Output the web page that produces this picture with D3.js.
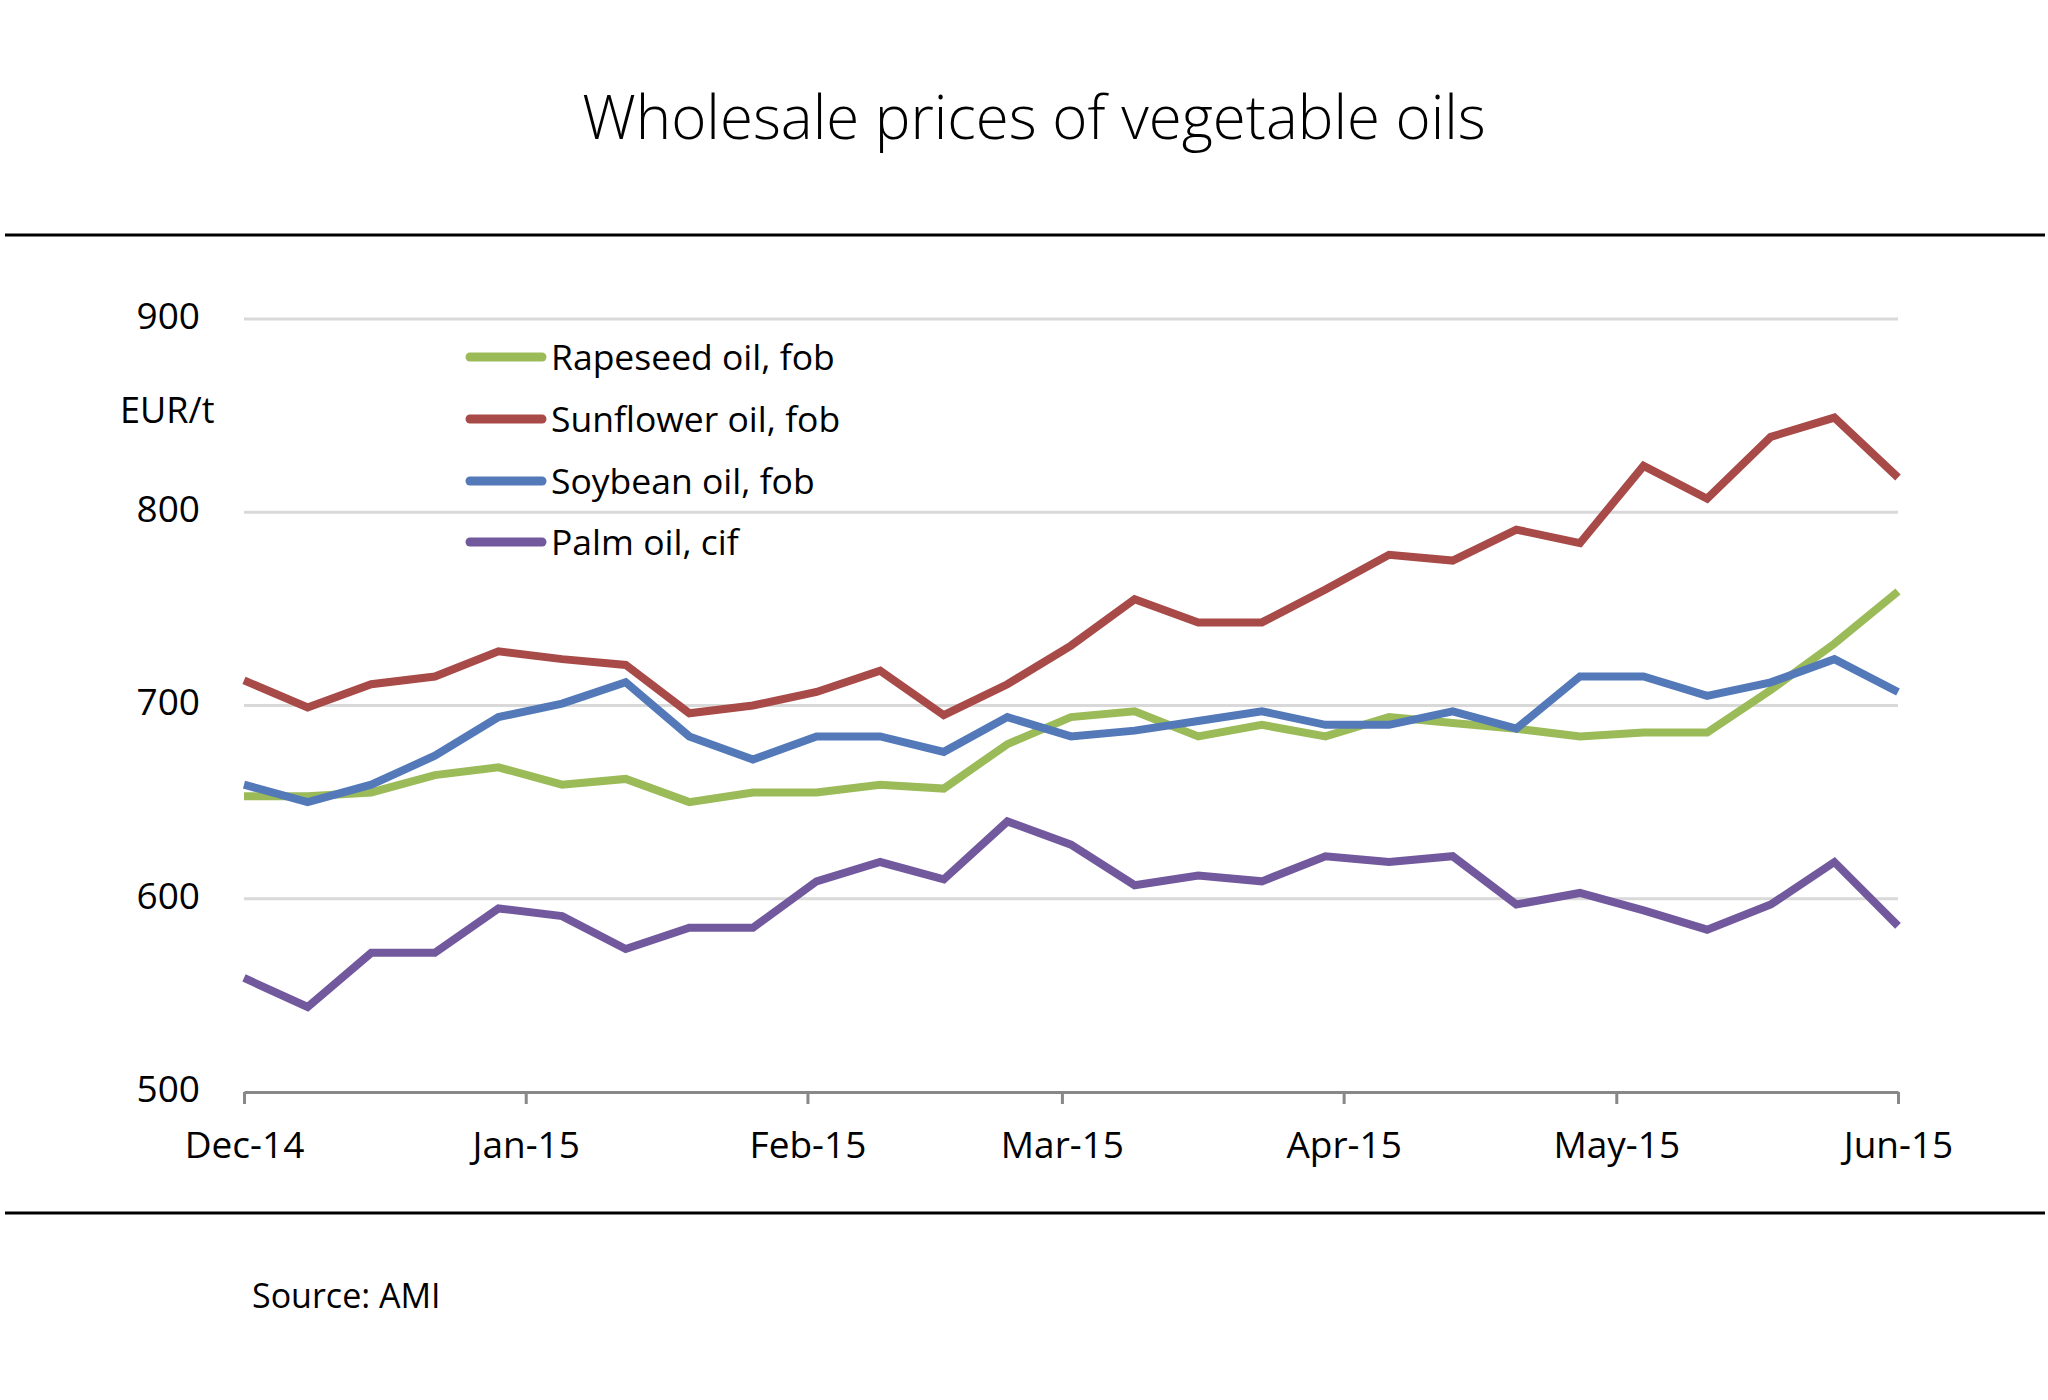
<!DOCTYPE html>
<html>
<head>
<meta charset="utf-8">
<script src="https://cdn.jsdelivr.net/npm/d3@7"></script>
<style>
  body { margin: 0; background: #fff; }
  svg { display: block; font-family: "Open Sans", sans-serif; }
</style>
</head>
<body>
<div id="chart"></div>
<script>
var weeks = ['2014-12-01', '2014-12-08', '2014-12-15', '2014-12-22', '2014-12-29',
  '2015-01-05', '2015-01-12', '2015-01-19', '2015-01-26', '2015-02-02', '2015-02-09',
  '2015-02-16', '2015-02-23', '2015-03-02', '2015-03-09', '2015-03-16', '2015-03-23',
  '2015-03-30', '2015-04-06', '2015-04-13', '2015-04-20', '2015-04-27', '2015-05-04',
  '2015-05-11', '2015-05-18', '2015-05-25', '2015-06-01'];

var rapeseed = [653, 653, 655, 664, 668, 659, 662, 650, 655, 655, 659, 657, 680, 694,
  697, 684, 690, 684, 694, 691, 688, 684, 686, 686, 708, 732, 759];
var sunflower = [713, 699, 711, 715, 728, 724, 721, 696, 700, 707, 718, 695, 711, 731,
  755, 743, 743, 760, 778, 775, 791, 784, 824, 807, 839, 849, 818];
var soybean = [659, 650, 659, 674, 694, 701, 712, 684, 672, 684, 684, 676, 694, 684,
  687, 692, 697, 690, 690, 697, 688, 715, 715, 705, 712, 724, 707];
var palm = [559, 544, 572, 572, 595, 591, 574, 585, 585, 609, 619, 610, 640, 628,
  607, 612, 609, 622, 619, 622, 597, 603, 594, 584, 597, 619, 586];

var seriesNames = ['Rapeseed oil, fob', 'Sunflower oil, fob', 'Soybean oil, fob', 'Palm oil, cif'];
var seriesColors = ['#9bbb59', '#a84a47', '#5479b9', '#72599d'];
var yTicks = [500, 600, 700, 800, 900];

var width = 2048, height = 1400;
var plotLeft = 244, plotRight = 1898, plotTop = 319, plotBottom = 1092;

var svg = d3.select('#chart').append('svg')
  .attr('width', width)
  .attr('height', height);

// title and the two black rules framing the chart
svg.append('text')
  .attr('x', 1034)
  .attr('y', 139)
  .attr('text-anchor', 'middle')
  .attr('font-size', 60)
  .attr('font-weight', 300)
  .attr('fill', '#000')
  .text('Wholesale prices of vegetable oils');

svg.selectAll('.rule')
  .data([235, 1213])
  .enter().append('line')
  .attr('class', 'rule')
  .attr('x1', 5).attr('x2', 2045)
  .attr('y1', function(d) { return d; })
  .attr('y2', function(d) { return d; })
  .attr('stroke', '#000')
  .attr('stroke-width', 3);

var parse = d3.utcParse('%Y-%m-%d');
var dates = weeks.map(parse);

var x = d3.scaleUtc()
  .domain([dates[0], dates[dates.length - 1]])
  .range([plotLeft, plotRight]);

var y = d3.scaleLinear()
  .domain([500, 900])
  .range([plotBottom, plotTop]);

// gridlines
svg.selectAll('.grid')
  .data(yTicks.slice(1))
  .enter().append('line')
  .attr('class', 'grid')
  .attr('x1', plotLeft).attr('x2', plotRight)
  .attr('y1', function(d) { return y(d); })
  .attr('y2', function(d) { return y(d); })
  .attr('stroke', '#d9d9d9')
  .attr('stroke-width', 3);

// y labels
svg.selectAll('.ylab')
  .data(yTicks)
  .enter().append('text')
  .attr('class', 'ylab')
  .attr('x', 200)
  .attr('y', function(d) { return y(d); })
  .attr('dy', '0.27em')
  .attr('text-anchor', 'end')
  .attr('font-size', 37)
  .attr('fill', '#000')
  .text(function(d) { return d; });

svg.append('text')
  .attr('x', 120)
  .attr('y', 423)
  .attr('font-size', 36)
  .attr('fill', '#000')
  .text('EUR/t');

// x axis
var xAxis = d3.axisBottom(x)
  .ticks(d3.utcMonth.every(1))
  .tickFormat(d3.utcFormat('%b-%y'))
  .tickSize(12)
  .tickSizeOuter(0);

var gx = svg.append('g')
  .attr('transform', 'translate(0,' + plotBottom + ')')
  .call(xAxis);

gx.select('.domain').attr('stroke', '#888').attr('stroke-width', 3);
gx.selectAll('.tick line').attr('stroke', '#888').attr('stroke-width', 3);
gx.selectAll('.tick text')
  .attr('y', 66)
  .attr('dy', 0)
  .attr('font-size', 37)
  .attr('font-family', '"Open Sans", sans-serif')
  .attr('fill', '#000');

// lines
var allSeries = [rapeseed, sunflower, soybean, palm];

var line = d3.line()
  .x(function(d, i) { return x(dates[i]); })
  .y(function(d) { return y(d); });

svg.selectAll('.series')
  .data(allSeries)
  .enter().append('path')
  .attr('class', 'series')
  .attr('d', line)
  .attr('fill', 'none')
  .attr('stroke', function(d, i) { return seriesColors[i]; })
  .attr('stroke-width', 8)
  .attr('stroke-linejoin', 'miter');

// legend
var legendY = [357, 419, 481, 542];

var legend = svg.selectAll('.legend')
  .data(seriesNames)
  .enter().append('g')
  .attr('class', 'legend')
  .attr('transform', function(d, i) { return 'translate(0,' + legendY[i] + ')'; });

legend.append('line')
  .attr('x1', 470).attr('x2', 542)
  .attr('stroke', function(d, i) { return seriesColors[i]; })
  .attr('stroke-width', 9)
  .attr('stroke-linecap', 'round');

legend.append('text')
  .attr('x', 551)
  .attr('dy', 13)
  .attr('font-size', 35.5)
  .attr('fill', '#000')
  .text(function(d) { return d; });

svg.append('text')
  .attr('x', 252)
  .attr('y', 1308)
  .attr('font-size', 34)
  .attr('fill', '#000')
  .text('Source: AMI');
</script>
</body>
</html>
